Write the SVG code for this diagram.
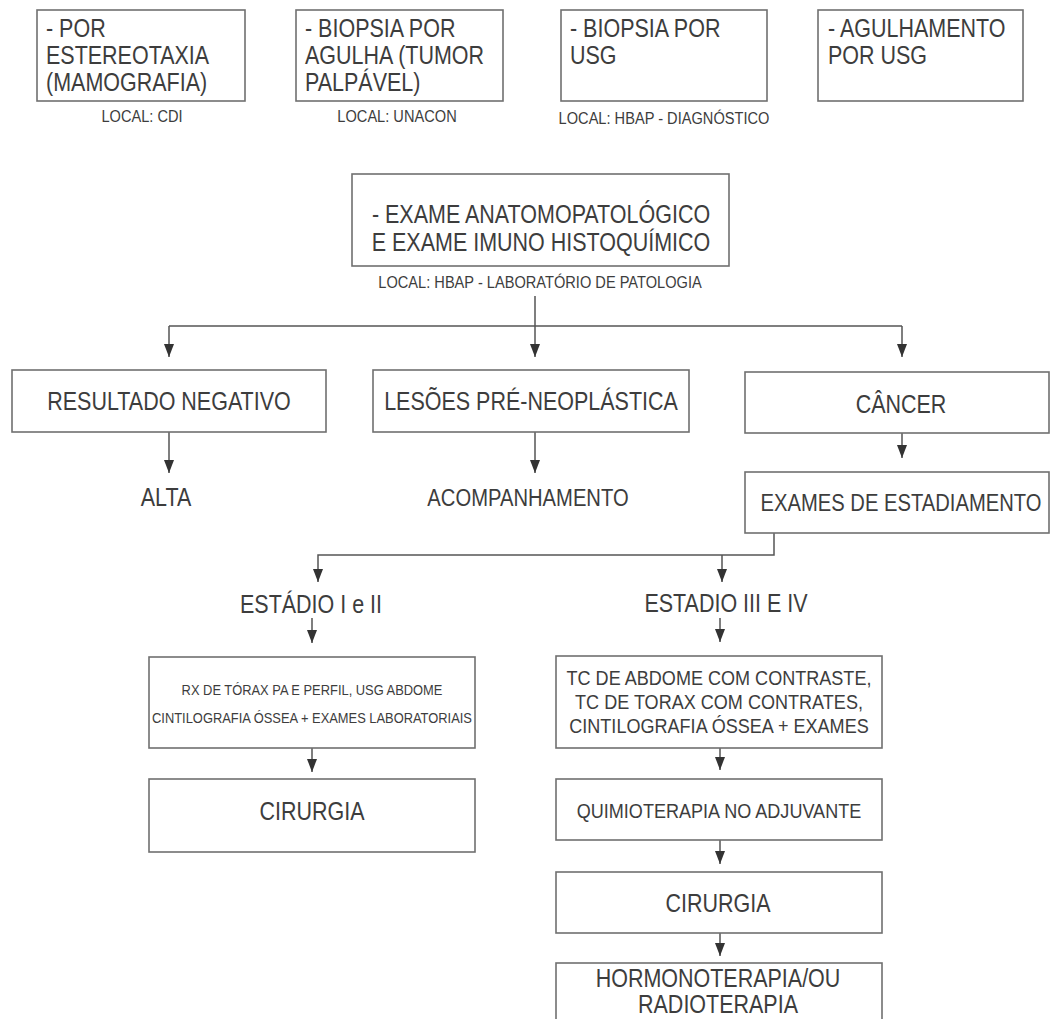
<svg xmlns="http://www.w3.org/2000/svg" width="1053" height="1019" viewBox="0 0 1053 1019">
<defs>
<style>
.box{fill:#fff;stroke:#707070;stroke-width:1.6}
.t{font-family:"Liberation Sans",Arial,sans-serif;fill:#3d3d3d}
.c{text-anchor:middle}
.f25{font-size:25px}
.f23{font-size:23.5px}
.f21{font-size:21px}
.f17{font-size:17px}
.f15{font-size:15px}
.con{fill:none;stroke:#555;stroke-width:1.5}
</style>
<marker id="ah" markerUnits="userSpaceOnUse" markerWidth="13" markerHeight="10" viewBox="0 0 13 10" refX="13" refY="5" orient="auto">
<path d="M0,0 L13,5 L0,10 z" fill="#333"/>
</marker>
</defs>
<rect width="1053" height="1019" fill="#fff"/>

<g id="b1">
<rect class="box" x="37" y="10" width="208" height="91"/>
<text class="t f25" transform="translate(46,37) scale(0.86,1)"><tspan x="0" y="0">- POR</tspan><tspan x="0" y="27">ESTEREOTAXIA</tspan><tspan x="0" y="54">(MAMOGRAFIA)</tspan></text>
<text class="t c f17" transform="translate(142,122) scale(0.86,1)">LOCAL: CDI</text>
</g>
<g id="b2">
<rect class="box" x="296" y="10" width="207" height="91"/>
<text class="t f25" transform="translate(305,37) scale(0.86,1)"><tspan x="0" y="0">- BIOPSIA POR</tspan><tspan x="0" y="27">AGULHA (TUMOR</tspan><tspan x="0" y="54">PALPÁVEL)</tspan></text>
<text class="t c f17" transform="translate(397,122) scale(0.86,1)">LOCAL: UNACON</text>
</g>
<g id="b3">
<rect class="box" x="561" y="10" width="206" height="91"/>
<text class="t f25" transform="translate(570,37) scale(0.86,1)"><tspan x="0" y="0">- BIOPSIA POR</tspan><tspan x="0" y="27">USG</tspan></text>
<text class="t c f17" transform="translate(664,124) scale(0.86,1)">LOCAL: HBAP - DIAGNÓSTICO</text>
</g>
<g id="b4">
<rect class="box" x="818" y="10" width="205" height="91"/>
<text class="t f25" transform="translate(828,37) scale(0.86,1)"><tspan x="0" y="0">- AGULHAMENTO</tspan><tspan x="0" y="27">POR USG</tspan></text>
</g>

<g id="exame">
<rect class="box" x="352" y="174" width="377" height="92"/>
<text class="t c f25" transform="translate(541,223) scale(0.86,1)"><tspan x="0" y="0">- EXAME ANATOMOPATOLÓGICO</tspan><tspan x="0" y="28">E EXAME IMUNO HISTOQUÍMICO</tspan></text>
<text class="t c f17" transform="translate(540,288) scale(0.86,1)">LOCAL: HBAP - LABORATÓRIO DE PATOLOGIA</text>
</g>

<g id="connectors">
<line class="con" x1="535" y1="296" x2="535" y2="357" marker-end="url(#ah)"/>
<line class="con" x1="169" y1="326" x2="902" y2="326"/>
<line class="con" x1="169" y1="326" x2="169" y2="357" marker-end="url(#ah)"/>
<line class="con" x1="902" y1="326" x2="902" y2="357" marker-end="url(#ah)"/>
<line class="con" x1="169" y1="432" x2="169" y2="473" marker-end="url(#ah)"/>
<line class="con" x1="535" y1="432" x2="535" y2="473" marker-end="url(#ah)"/>
<line class="con" x1="902" y1="433" x2="902" y2="458" marker-end="url(#ah)"/>
<path class="con" d="M774,533 V555 H318 V582" marker-end="url(#ah)"/>
<line class="con" x1="722" y1="555" x2="722" y2="582" marker-end="url(#ah)"/>
<line class="con" x1="312" y1="618" x2="312" y2="643" marker-end="url(#ah)"/>
<line class="con" x1="312" y1="748" x2="312" y2="772" marker-end="url(#ah)"/>
<line class="con" x1="720" y1="618" x2="720" y2="642" marker-end="url(#ah)"/>
<line class="con" x1="720" y1="748" x2="720" y2="770" marker-end="url(#ah)"/>
<line class="con" x1="720" y1="840" x2="720" y2="864" marker-end="url(#ah)"/>
<line class="con" x1="720" y1="933" x2="720" y2="956" marker-end="url(#ah)"/>
</g>

<g id="negativo">
<rect class="box" x="12" y="370" width="314" height="62"/>
<text class="t c f25" transform="translate(169,410) scale(0.86,1)">RESULTADO NEGATIVO</text>
</g>
<g id="lesoes">
<rect class="box" x="373" y="370" width="316" height="62"/>
<text class="t c f25" transform="translate(531,410) scale(0.86,1)">LESÕES PRÉ-NEOPLÁSTICA</text>
</g>
<g id="cancer">
<rect class="box" x="745" y="372" width="304" height="61"/>
<text class="t c f25" transform="translate(901,413) scale(0.86,1)">CÂNCER</text>
</g>
<g id="alta">
<text class="t c f25" transform="translate(166,506) scale(0.86,1)">ALTA</text>
</g>
<g id="acomp">
<text class="t c f23" transform="translate(528,506) scale(0.86,1)">ACOMPANHAMENTO</text>
</g>
<g id="estadiamento">
<rect class="box" x="745" y="472" width="304" height="61"/>
<text class="t c f23" transform="translate(901,511) scale(0.86,1)">EXAMES DE ESTADIAMENTO</text>
</g>
<g id="est12">
<text class="t c f25" transform="translate(311,613) scale(0.86,1)">ESTÁDIO I e II</text>
</g>
<g id="est34">
<text class="t c f25" transform="translate(726,612) scale(0.86,1)">ESTADIO III E IV</text>
</g>
<g id="rx">
<rect class="box" x="149" y="657" width="326" height="91"/>
<text class="t c f15" transform="translate(312,695) scale(0.86,1)"><tspan x="0" y="0">RX DE TÓRAX PA E PERFIL, USG ABDOME</tspan><tspan x="0" y="28">CINTILOGRAFIA ÓSSEA + EXAMES LABORATORIAIS</tspan></text>
</g>
<g id="cirurgia1">
<rect class="box" x="149" y="779" width="326" height="73"/>
<text class="t c f25" transform="translate(312,820) scale(0.86,1)">CIRURGIA</text>
</g>
<g id="tc">
<rect class="box" x="556" y="656" width="326" height="92"/>
<text class="t c f21" transform="translate(719,685) scale(0.86,1)"><tspan x="0" y="0">TC DE ABDOME COM CONTRASTE,</tspan><tspan x="0" y="24">TC DE TORAX COM CONTRATES,</tspan><tspan x="0" y="48">CINTILOGRAFIA ÓSSEA + EXAMES</tspan></text>
</g>
<g id="quimio">
<rect class="box" x="556" y="779" width="326" height="61"/>
<text class="t c f21" transform="translate(719,818) scale(0.86,1)">QUIMIOTERAPIA NO ADJUVANTE</text>
</g>
<g id="cirurgia2">
<rect class="box" x="556" y="872" width="326" height="61"/>
<text class="t c f25" transform="translate(718,912) scale(0.86,1)">CIRURGIA</text>
</g>
<g id="hormono">
<rect class="box" x="556" y="963" width="326" height="80"/>
<text class="t c f25" transform="translate(718,987) scale(0.86,1)"><tspan x="0" y="0">HORMONOTERAPIA/OU</tspan><tspan x="0" y="26">RADIOTERAPIA</tspan></text>
</g>
</svg>
